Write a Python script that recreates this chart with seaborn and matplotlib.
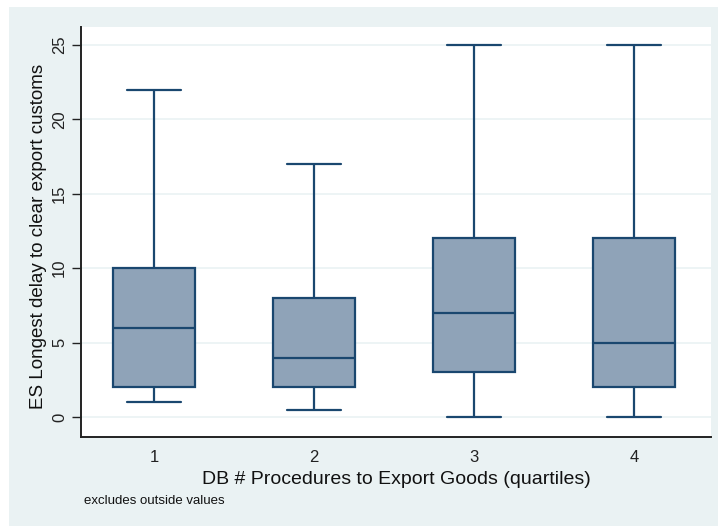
import numpy as np
import pandas as pd
import matplotlib
matplotlib.use("Agg")
import matplotlib.pyplot as plt
import seaborn as sns

# Five-number summaries (min, Q1, median, Q3, max) per quartile group
groups = ["1", "2", "3", "4"]
lower_whisker = [1.0, 0.5, 0.0, 0.0]
q1 = [2.0, 2.0, 3.0, 2.0]
median = [6.0, 4.0, 7.0, 5.0]
q3 = [10.0, 8.0, 12.0, 12.0]
upper_whisker = [22.0, 17.0, 25.0, 25.0]
y_ticks = [0, 5, 10, 15, 20, 25]

rows = []
for g, lo, a, m, b, hi in zip(groups, lower_whisker, q1, median, q3, upper_whisker):
    for v in (lo, a, m, b, hi):
        rows.append({"group": g, "delay": v})
df = pd.DataFrame(rows)

sns.set_theme(style="white")
plt.rcParams["font.family"] = ["Liberation Sans", "DejaVu Sans"]

navy = "#1A476F"
fill = "#8FA3B8"
bg = "#EAF2F3"
ink = "#111111"

fig = plt.figure(figsize=(7.18, 5.26), dpi=100)
fig.patch.set_facecolor("white")
# outer graph region
fig.patches.append(plt.Rectangle((9 / 718, 0), 1, 1 - 7 / 526, transform=fig.transFigure,
                                 facecolor=bg, edgecolor="none", zorder=-10))

ax = fig.add_axes([81 / 718, 1 - 437 / 526, 630 / 718, 410 / 526])
ax.set_facecolor("white")

sns.boxplot(data=df, x="group", y="delay", order=groups, whis=(0, 100), width=0.51,
            color=fill, saturation=1, linewidth=1.6, linecolor=navy, fliersize=0,
            capwidths=0.34, ax=ax, zorder=3)

ax.set_ylim(-1.34, 26.2)
ax.set_xlim(-0.456, 3.48)
ax.set_yticks(y_ticks)
ax.grid(axis="y", color=bg, linewidth=1.2, zorder=0)
ax.set_axisbelow(True)

for s in ["top", "right"]:
    ax.spines[s].set_visible(False)
for s in ["left", "bottom"]:
    ax.spines[s].set_color("#222222")
    ax.spines[s].set_linewidth(1.4)

ax.tick_params(axis="y", which="both", left=True, length=6.5, width=1, color="#222222",
               labelsize=12, pad=3.5, colors="#222222")
ax.tick_params(axis="x", bottom=False, labelsize=12, pad=3, colors="#222222")
for t in ax.get_yticklabels():
    t.set_rotation(90)
    t.set_va("center")

ax.set_xlabel("DB # Procedures to Export Goods (quartiles)", fontsize=14, color=ink, va="center")
ax.set_ylabel("ES Longest delay to clear export customs", fontsize=13.5, color=ink, va="center")
ax.xaxis.set_label_coords(0.5, -42 / 410)
ax.yaxis.set_label_coords(-42 / 630, 0.489)

fig.text(84 / 718, 1 - 501 / 526, "excludes outside values", fontsize=9.5, color=ink,
         ha="left", va="center")

fig.savefig("out.png", dpi=100)
